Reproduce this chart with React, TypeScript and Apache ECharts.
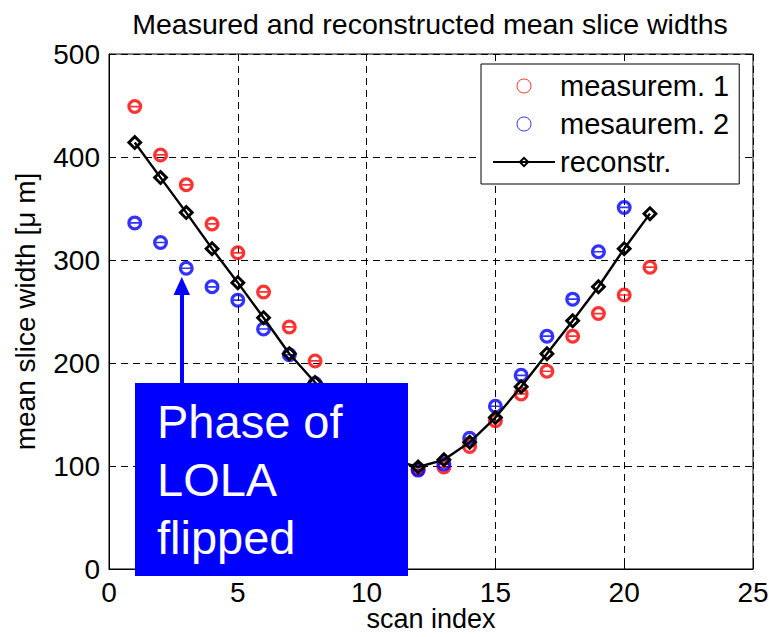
import React, { useEffect, useRef } from "react";
import * as echarts from "echarts";

const scanIndex = [1, 2, 3, 4, 5, 6, 7, 8, 9, 10, 11, 12, 13, 14, 15, 16, 17, 18, 19, 20, 21];
const measurem1 = [449, 402, 373, 335, 307, 269, 235, 202, 168, 135, 108, 97, 99, 119, 144, 170, 192, 226, 248, 266, 293];
const measurem2 = [336, 317, 292, 274, 261, 233, 208, 180, 150, 120, 100, 96, 102, 127, 158, 188, 226, 262, 308, 351];
const reconstr = [414, 380, 346, 311, 278, 244, 209, 181, 152, 127, 106, 99, 106, 123, 147, 177, 209, 241, 274, 311, 345];

const xTicks = { min: 0, max: 25, interval: 5 };
const yTicks = { min: 0, max: 500, interval: 100 };

const FONT = "'Liberation Sans', Arial, Helvetica, sans-serif";
const RING =
  "path://M15,0 A15,15 0 1,1 15,30 A15,15 0 1,1 15,0 Z M15,6.5 A8.5,8.5 0 1,0 15,23.5 A8.5,8.5 0 1,0 15,6.5 Z M5,13.3 H25 V16.7 H5 Z";
const DIAMOND = "path://M7,0 L14,7 L7,14 L0,7 Z M7,3.6 L3.6,7 L7,10.4 L10.4,7 Z";

export default function App() {
  const ref = useRef<HTMLDivElement>(null);
  useEffect(() => {
    if (!ref.current) return;
    const chart = echarts.init(ref.current, null, { renderer: "svg" });
    const pairs = (ys: number[]) => ys.map((v, i) => [scanIndex[i], v]);
    const gridLine = { show: true, lineStyle: { color: "#000", type: [7, 5] as any, width: 1 } };
    chart.setOption({
      animation: false,
      backgroundColor: "#fff",
      textStyle: { fontFamily: FONT },
      title: {
        text: "Measured and reconstructed mean slice widths",
        left: 425,
        textAlign: "center",
        top: 4,
        textStyle: { fontFamily: FONT, fontSize: 28.5, fontWeight: "normal", color: "#000" },
      },
      grid: {
        left: 109,
        right: 16,
        top: 54,
        bottom: 68,
        show: true,
        borderColor: "#000",
        borderWidth: 1,
        backgroundColor: "transparent",
        containLabel: false,
        outerBoundsMode: "none",
      },
      xAxis: {
        type: "value",
        ...xTicks,
        name: "scan index",
        nameLocation: "middle",
        nameGap: 36,
        nameMoveOverlap: false,
        nameTextStyle: { fontFamily: FONT, fontSize: 27, color: "#000", lineHeight: 27 },
        axisLine: { show: true, onZero: false, lineStyle: { color: "#000", width: 1 } },
        axisTick: { show: true, inside: true, length: 6, lineStyle: { color: "#000" } },
        axisLabel: { fontFamily: FONT, fontSize: 28, color: "#000", margin: 9 },
        splitLine: gridLine,
      },
      yAxis: {
        type: "value",
        ...yTicks,
        name: "mean slice width [\u03bc m]",
        nameLocation: "middle",
        nameGap: 70,
        nameMoveOverlap: false,
        nameTextStyle: { fontFamily: FONT, fontSize: 28, color: "#000" },
        axisLine: { show: true, lineStyle: { color: "#000", width: 1 } },
        axisTick: { show: true, inside: true, length: 6, lineStyle: { color: "#000" } },
        axisLabel: { fontFamily: FONT, fontSize: 28, color: "#000", margin: 9 },
        splitLine: gridLine,
      },
      legend: {
        orient: "vertical",
        left: 481,
        top: 64,
        backgroundColor: "#fff",
        borderColor: "#000",
        borderWidth: 1,
        padding: [7, 10, 7, 11],
        itemWidth: 62,
        itemHeight: 14,
        itemGap: 8,
        textStyle: { fontFamily: FONT, fontSize: 29, color: "#000", lineHeight: 30 },
        data: [
          { name: "measurem. 1", icon: "circle", itemStyle: { color: "transparent", borderColor: "#ff0000", borderWidth: 1 } },
          { name: "mesaurem. 2", icon: "circle", itemStyle: { color: "transparent", borderColor: "#0000ff", borderWidth: 1 } },
          { name: "reconstr." },
        ],
      },
      series: [
        {
          name: "measurem. 1",
          type: "scatter",
          data: pairs(measurem1),
          symbol: RING,
          symbolSize: 15,
          itemStyle: { color: "#ff0000" },
          z: 2,
        },
        {
          name: "mesaurem. 2",
          type: "scatter",
          data: pairs(measurem2),
          symbol: RING,
          symbolSize: 15,
          itemStyle: { color: "#0000ff" },
          z: 2,
        },
        {
          name: "reconstr.",
          type: "line",
          data: pairs(reconstr),
          symbol: DIAMOND,
          symbolSize: 16,
          showSymbol: true,
          lineStyle: { color: "#000", width: 2.4 },
          itemStyle: { color: "#000" },
          z: 3,
        },
      ],
      graphic: [
        {
          type: "rect",
          z: 100,
          shape: { x: 180, y: 292, width: 4, height: 92 },
          style: { fill: "#0000ff" },
        },
        {
          type: "polygon",
          z: 100,
          shape: { points: [[173.5, 295], [190, 295], [181.8, 277]] },
          style: { fill: "#0000ff" },
        },
        {
          type: "rect",
          z: 100,
          shape: { x: 135, y: 383, width: 273, height: 193 },
          style: { fill: "#0000ff" },
        },
        {
          type: "text",
          z: 101,
          x: 157,
          y: 392,
          style: {
            text: "Phase of\nLOLA\nflipped",
            fill: "#fff",
            fontFamily: FONT,
            fontSize: 47,
            lineHeight: 58,
            textVerticalAlign: "top",
            verticalAlign: "top",
          },
        },
      ],
    });
    return () => chart.dispose();
  }, []);
  return <div ref={ref} style={{ position: "fixed", left: 0, top: 0, width: 769, height: 637 }} />;
}
